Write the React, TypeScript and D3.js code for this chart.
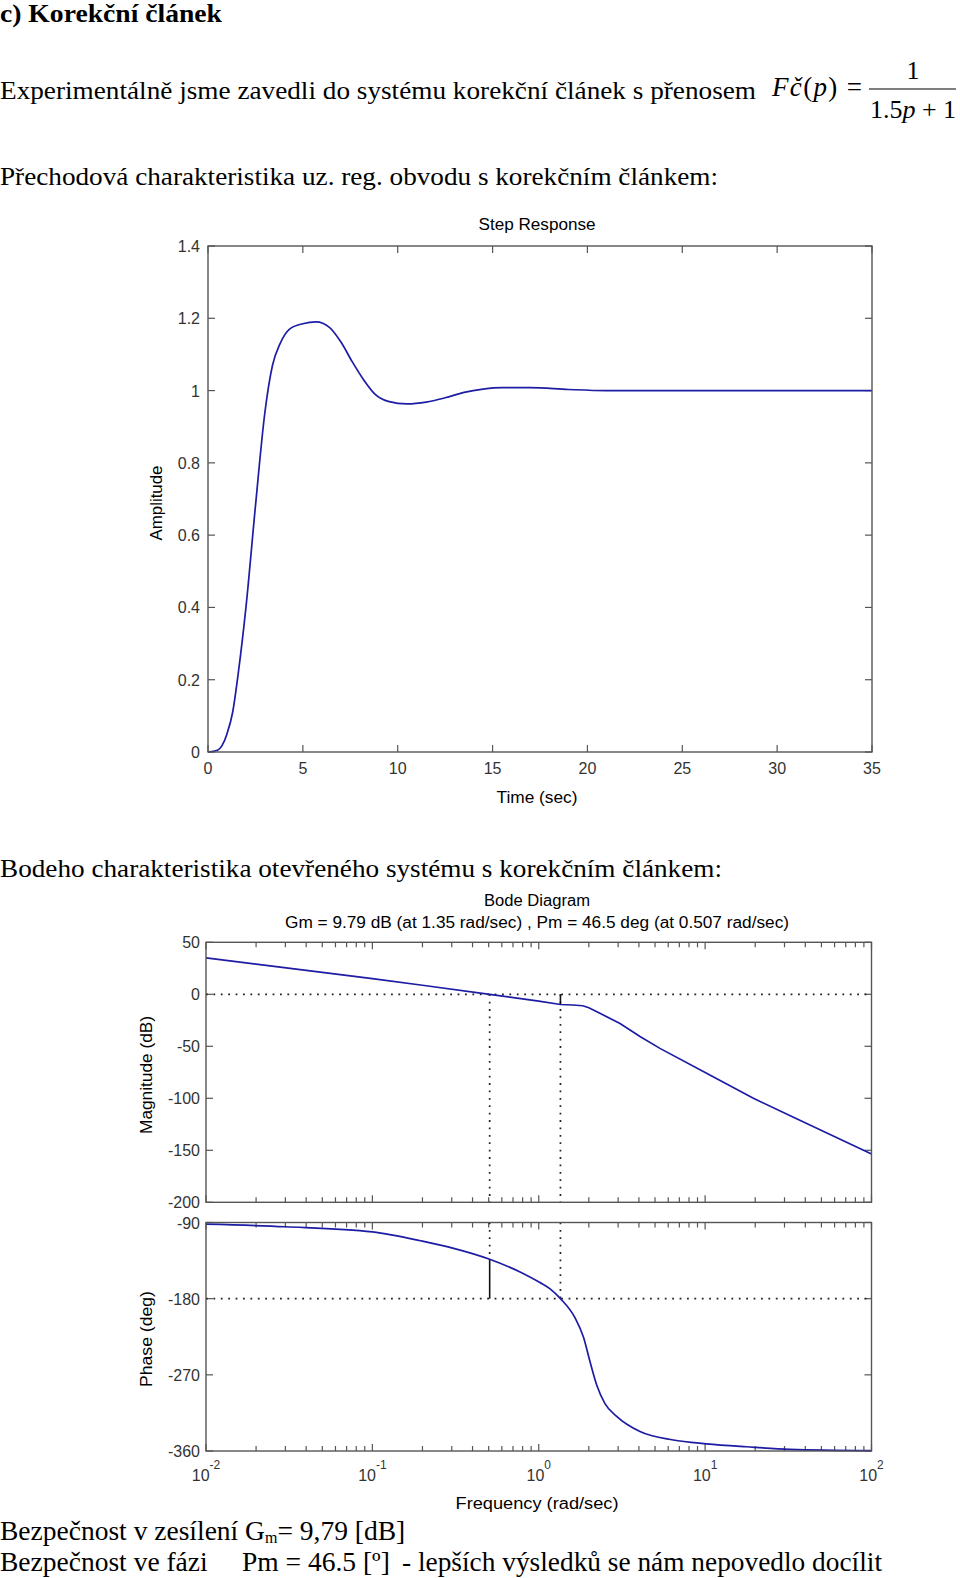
import * as d3 from 'd3';
import React, { useRef, useEffect } from 'react';

// step response
const stepTime = [0, 0.5, 1.0, 1.3, 1.6, 2.0, 2.5, 3.0, 3.4, 3.8, 4.3, 5.0, 5.7, 6.4, 7.0, 7.6, 8.2, 8.8, 9.5, 10.5, 11.5, 12.5, 13.5, 14.5, 15.5, 17, 19, 21, 25, 30, 35];
const stepAmp = [0, 0.005, 0.05, 0.11, 0.22, 0.4, 0.68, 0.94, 1.07, 1.13, 1.17, 1.185, 1.19, 1.175, 1.135, 1.08, 1.03, 0.99, 0.97, 0.963, 0.968, 0.98, 0.995, 1.004, 1.008, 1.008, 1.003, 1.0, 1.0, 1.0, 1.0];
const stepXTicks = [0, 5, 10, 15, 20, 25, 30, 35];
const stepYTicks = [0, 0.2, 0.4, 0.6, 0.8, 1, 1.2, 1.4];

// bode magnitude
const magFreq = [0.01, 0.02, 0.05, 0.1, 0.2, 0.507, 1.0, 1.35, 1.6, 1.84, 2.0, 2.33, 3.08, 4.06, 5.35, 10.2, 19.5, 33.7, 100];
const magDb = [35, 29, 21, 15, 8.7, 0, -6.5, -9.79, -10.3, -11, -12.9, -18.3, -28, -40.5, -52, -76, -100, -118, -153.5];
// bode phase
const phaseFreq = [0.01, 0.03, 0.1, 0.2, 0.3, 0.507, 0.8, 1.016, 1.17, 1.35, 1.65, 1.86, 2.03, 2.23, 2.5, 2.94, 4.06, 6.43, 10.2, 17.7, 32.3, 100];
const phaseDeg = [-92, -95, -101, -112, -120, -133.5, -150, -161, -168.5, -180, -202.5, -226, -254, -282, -304, -319, -337, -347, -351.5, -355, -358, -359.5];
const magTicks = [50, 0, -50, -100, -150, -200];
const phaseTicks = [-90, -180, -270, -360];
const freqDecades = [-2, -1, 0, 1, 2];
// margins: [frequency, value]
const gainMargin = [1.35, -9.79];
const phaseMargin = [0.507, -133.5];

const AXIS = '#555';
const LINE = '#1c1ca4';
const LABEL = '#333';
const SANS = 'Liberation Sans, Arial, sans-serif';
const SERIF = 'Liberation Serif, Times New Roman, serif';

function App() {
  const ref = useRef<SVGSVGElement>(null);

  useEffect(() => {
    draw();
  }, []); // eslint-disable-line react-hooks/exhaustive-deps

  const draw = () => {
    const svg = d3.select(ref.current);
    svg.selectAll('*').remove();

    const txt = (x: number, y: number, s: string, size: number, opts: any = {}) => {
      const t = svg
        .append('text')
        .attr('x', x)
        .attr('y', y)
        .attr('font-family', opts.family || SANS)
        .attr('font-size', size)
        .attr('fill', opts.fill || '#000')
        .attr('text-anchor', opts.anchor || 'start')
        .text(s);
      if (opts.weight) t.attr('font-weight', opts.weight);
      if (opts.len) t.attr('textLength', opts.len).attr('lengthAdjust', 'spacingAndGlyphs');
      if (opts.rotate) t.attr('transform', `rotate(-90, ${x}, ${y})`);
      return t;
    };

    const box = (x0: number, x1: number, y0: number, y1: number) => {
      svg
        .append('rect')
        .attr('x', x0)
        .attr('y', y0)
        .attr('width', x1 - x0)
        .attr('height', y1 - y0)
        .attr('fill', 'none')
        .attr('stroke', AXIS)
        .attr('stroke-width', 1.4);
    };

    const seg = (x1: number, y1: number, x2: number, y2: number, stroke = AXIS, dash = '', w = 1.2) => {
      const l = svg
        .append('line')
        .attr('x1', x1)
        .attr('y1', y1)
        .attr('x2', x2)
        .attr('y2', y2)
        .attr('stroke', stroke)
        .attr('stroke-width', w);
      if (dash) l.attr('stroke-dasharray', dash);
    };

    // ---------- page text ----------
    txt(0, 22, 'c)  Korekční článek', 26, { family: SERIF, weight: 'bold', len: 222 });
    txt(0, 99, 'Experimentálně jsme zavedli do systému korekční článek s přenosem', 26, { family: SERIF, len: 756 });

    // formula Fč(p) = 1 / (1.5p + 1)
    const f = svg
      .append('text')
      .attr('x', 772)
      .attr('y', 96)
      .attr('font-family', SERIF)
      .attr('font-size', 27)
      .attr('textLength', 90)
      .attr('lengthAdjust', 'spacing');
    f.append('tspan').attr('font-style', 'italic').text('Fč');
    f.append('tspan').text('(');
    f.append('tspan').attr('font-style', 'italic').text('p');
    f.append('tspan').text(') =');
    seg(869, 89, 956, 89, '#000', '', 1.2);
    txt(913, 79, '1', 26, { family: SERIF, anchor: 'middle' });
    const den = svg.append('text').attr('x', 913).attr('y', 118).attr('font-family', SERIF).attr('font-size', 26).attr('text-anchor', 'middle');
    den.append('tspan').text('1.5');
    den.append('tspan').attr('font-style', 'italic').text('p');
    den.append('tspan').text(' + 1');

    txt(0, 185, 'Přechodová charakteristika uz. reg. obvodu s korekčním článkem:', 26, { family: SERIF, len: 718 });

    // ---------- step response ----------
    const sx = d3.scaleLinear().domain([0, 35]).range([208, 872]);
    const sy = d3.scaleLinear().domain([0, 1.4]).range([752, 246]);

    stepXTicks.forEach((t) => {
      seg(sx(t), 752, sx(t), 745);
      seg(sx(t), 246, sx(t), 253);
      txt(sx(t), 774, String(t), 16, { anchor: 'middle', fill: LABEL });
    });
    stepYTicks.forEach((v) => {
      seg(208, sy(v), 215, sy(v));
      seg(872, sy(v), 865, sy(v));
      txt(200, sy(v) + 6, String(v), 16, { anchor: 'end', fill: LABEL });
    });

    const stepLine = d3
      .line<number>()
      .x((_, i) => sx(stepTime[i]))
      .y((d) => sy(d))
      .curve(d3.curveMonotoneX);
    svg.append('path').attr('d', stepLine(stepAmp)).attr('fill', 'none').attr('stroke', LINE).attr('stroke-width', 1.7);
    box(208, 872, 246, 752);

    txt(537, 230, 'Step Response', 16, { anchor: 'middle', len: 117 });
    txt(537, 803, 'Time (sec)', 16, { anchor: 'middle', len: 81 });
    txt(162, 503, 'Amplitude', 16, { anchor: 'middle', len: 75, rotate: true });

    // ---------- bode ----------
    txt(0, 877, 'Bodeho charakteristika otevřeného systému s korekčním článkem:', 26, { family: SERIF, len: 722 });

    const bx = d3.scaleLog().domain([0.01, 100]).range([206, 871.5]);
    const my = d3.scaleLinear().domain([-200, 50]).range([1202.3, 942.3]);
    const py = d3.scaleLinear().domain([-360, -90]).range([1451, 1222.5]);

    txt(537, 906, 'Bode Diagram', 16, { anchor: 'middle', len: 106 });
    txt(537, 928, 'Gm = 9.79 dB (at 1.35 rad/sec) ,  Pm = 46.5 deg (at 0.507 rad/sec)', 16, { anchor: 'middle', len: 504 });

    const logTicks: [number, boolean][] = [];
    freqDecades.forEach((d) => {
      for (let k = 1; k <= 9; k++) {
        if (d === 2 && k > 1) break;
        logTicks.push([k * Math.pow(10, d), k === 1]);
      }
    });

    const panel = (y0: number, y1: number, yScale: any, yTicks: number[]) => {
      logTicks.forEach(([w, major]) => {
        const len = major ? 7 : 5;
        seg(bx(w), y1, bx(w), y1 - len);
        seg(bx(w), y0, bx(w), y0 + len);
      });
      yTicks.forEach((v) => {
        seg(206, yScale(v), 213, yScale(v));
        seg(871.5, yScale(v), 864.5, yScale(v));
        txt(200, yScale(v) + 6, String(v), 16, { anchor: 'end', fill: LABEL });
      });
    };

    panel(942.3, 1202.3, my, magTicks);
    panel(1222.5, 1451, py, phaseTicks);

    // margin guides
    const dots = '1.8,5.6';
    seg(206, my(0), 871.5, my(0), '#222', dots, 1.7);
    seg(bx(phaseMargin[0]), my(0), bx(phaseMargin[0]), 1202.3, '#222', dots, 1.7);
    seg(bx(gainMargin[0]), my(0), bx(gainMargin[0]), 1202.3, '#222', dots, 1.7);
    seg(bx(gainMargin[0]), my(0), bx(gainMargin[0]), my(gainMargin[1]), '#111', '', 1.6);

    seg(206, py(-180), 871.5, py(-180), '#222', dots, 1.7);
    seg(bx(phaseMargin[0]), 1222.5, bx(phaseMargin[0]), py(phaseMargin[1]), '#222', dots, 1.7);
    seg(bx(gainMargin[0]), 1222.5, bx(gainMargin[0]), py(-180), '#222', dots, 1.7);
    seg(bx(phaseMargin[0]), py(phaseMargin[1]), bx(phaseMargin[0]), py(-180), '#111', '', 1.6);

    const magLine = d3
      .line<number>()
      .x((_, i) => bx(magFreq[i]))
      .y((d) => my(d))
      .curve(d3.curveLinear);
    svg.append('path').attr('d', magLine(magDb)).attr('fill', 'none').attr('stroke', LINE).attr('stroke-width', 1.7);

    const phaseLine = d3
      .line<number>()
      .x((_, i) => bx(phaseFreq[i]))
      .y((d) => py(d))
      .curve(d3.curveMonotoneX);
    svg.append('path').attr('d', phaseLine(phaseDeg)).attr('fill', 'none').attr('stroke', LINE).attr('stroke-width', 1.7);

    box(206, 871.5, 942.3, 1202.3);
    box(206, 871.5, 1222.5, 1451);

    freqDecades.forEach((d) => {
      const t = svg
        .append('text')
        .attr('x', bx(Math.pow(10, d)))
        .attr('y', 1481)
        .attr('font-family', SANS)
        .attr('font-size', 16)
        .attr('fill', LABEL)
        .attr('text-anchor', 'middle');
      t.append('tspan').text('10');
      t.append('tspan').attr('font-size', 12).attr('dy', -12).text(String(d));
    });

    txt(152, 1075, 'Magnitude (dB)', 16, { anchor: 'middle', len: 118, rotate: true });
    txt(152, 1339, 'Phase (deg)', 16, { anchor: 'middle', len: 96, rotate: true });
    txt(537, 1509, 'Frequency  (rad/sec)', 16, { anchor: 'middle', len: 163 });

    // ---------- results ----------
    const r1 = svg.append('text').attr('x', 0).attr('y', 1540).attr('font-family', SERIF).attr('font-size', 27.5);
    r1.append('tspan').text('Bezpečnost v zesílení G');
    r1.append('tspan').attr('font-size', 16).attr('dy', 3).text('m');
    r1.append('tspan').attr('dy', -3).text('= 9,79 [dB]');

    txt(0, 1571, 'Bezpečnost ve fázi', 27.5, { family: SERIF });
    txt(242, 1571, 'Pm = 46.5 [º]', 27.5, { family: SERIF });
    txt(402, 1571, '- lepších výsledků se nám nepovedlo docílit', 27.5, { family: SERIF, len: 480 });
  };

  return (
    <svg ref={ref} width={960} height={1578} style={{ position: 'absolute', left: 0, top: 0, background: '#fff' }} />
  );
}

export default App;
